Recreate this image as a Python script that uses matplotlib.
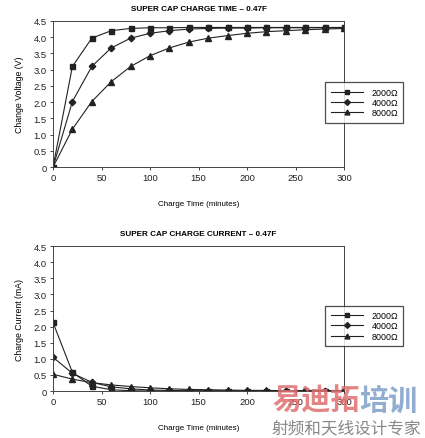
import matplotlib
matplotlib.use("Agg")
import matplotlib.pyplot as plt

plt.rcParams['font.family'] = ['Liberation Sans', 'DejaVu Sans']

time_min = [0, 20, 40, 60, 80, 100, 120, 140, 160, 180, 200, 220, 240, 260, 280, 300]
series_labels = ["2000Ω", "4000Ω", "8000Ω"]

voltage_2000 = [0, 3.10, 3.97, 4.20, 4.27, 4.29, 4.29, 4.30, 4.30, 4.30, 4.30, 4.30, 4.30, 4.30, 4.30, 4.30]
voltage_4000 = [0, 2.02, 3.10, 3.67, 3.97, 4.12, 4.20, 4.25, 4.27, 4.28, 4.28, 4.29, 4.29, 4.29, 4.29, 4.29]
voltage_8000 = [0, 1.17, 2.02, 2.63, 3.10, 3.43, 3.67, 3.85, 3.97, 4.05, 4.12, 4.17, 4.20, 4.23, 4.25, 4.27]

current_2000 = [2.13, 0.58, 0.15, 0.04, 0.01, 0.0, 0.0, 0.0, 0.0, 0.0, 0.0, 0.0, 0.0, 0.0, 0.0, 0.0]
current_4000 = [1.05, 0.55, 0.27, 0.13, 0.07, 0.03, 0.02, 0.01, 0.01, 0.0, 0.0, 0.0, 0.0, 0.0, 0.0, 0.0]
current_8000 = [0.52, 0.37, 0.26, 0.19, 0.14, 0.10, 0.07, 0.05, 0.04, 0.03, 0.02, 0.02, 0.01, 0.01, 0.01, 0.01]

markers = ['s', 'D', '^']
msizes = [3.6, 3.3, 3.9]

fig = plt.figure(figsize=(4.25, 4.39), dpi=100)
ax1 = fig.add_axes([0.1247, 0.617, 0.685, 0.333])
ax2 = fig.add_axes([0.1247, 0.107, 0.685, 0.330])

def style(ax, title, ylabel, legend_box):
    ax.set_xlim(0, 300)
    ax.set_ylim(0, 4.5)
    ax.set_xticks([0, 50, 100, 150, 200, 250, 300])
    ax.set_yticks([0, 0.5, 1.0, 1.5, 2.0, 2.5, 3.0, 3.5, 4.0, 4.5])
    ax.set_yticklabels(['0', '0.5', '1.0', '1.5', '2.0', '2.5', '3.0', '3.5', '4.0', '4.5'])
    ax.tick_params(labelsize=6.8, length=2.5, width=0.6, pad=2, colors='#222222')
    for s in ax.spines.values():
        s.set_linewidth(0.7)
        s.set_color('#444444')
    ax.set_title(title, fontsize=5.9, fontweight='bold', pad=8)
    ax.set_ylabel(ylabel, fontsize=6.3, labelpad=7)
    ax.set_xlabel('Charge Time (minutes)', fontsize=5.8, labelpad=13)
    leg = ax.legend(loc='upper left', bbox_to_anchor=legend_box, fontsize=6.4,
                    frameon=True, fancybox=False, edgecolor='#222222',
                    handlelength=3.6, handletextpad=1.0, labelspacing=0.15,
                    borderpad=0.6, markerscale=0.9)
    leg.get_frame().set_linewidth(0.9)
    leg.set_zorder(10)

for vals, lab, m, ms in zip([voltage_2000, voltage_4000, voltage_8000], series_labels, markers, msizes):
    ax1.plot(time_min, vals, color='#222222', lw=0.8, marker=m, ms=ms, label=lab)
for vals, lab, m, ms in zip([current_2000, current_4000, current_8000], series_labels, markers, msizes):
    ax2.plot(time_min, vals, color='#222222', lw=0.8, marker=m, ms=ms, label=lab)

style(ax1, 'SUPER CAP CHARGE TIME – 0.47F', 'Change Voltage (V)', (0.92, 0.61))
style(ax2, 'SUPER CAP CHARGE CURRENT – 0.47F', 'Charge Current (mA)', (0.92, 0.62))

cjk = ['Noto Sans CJK SC', 'DejaVu Sans']
fig.text(0.64, 0.087, '易迪拓', fontsize=21, fontweight='bold', color='#e07070',
         alpha=0.85, family=cjk, va='center')
fig.text(0.846, 0.087, '培训', fontsize=21, fontweight='bold', color='#7f9fc8',
         alpha=0.85, family=cjk, va='center')
fig.text(0.64, 0.024, '射频和天线设计专家', fontsize=12, color='#888888',
         family=cjk, va='center')

fig.savefig('out.png', dpi=100)
